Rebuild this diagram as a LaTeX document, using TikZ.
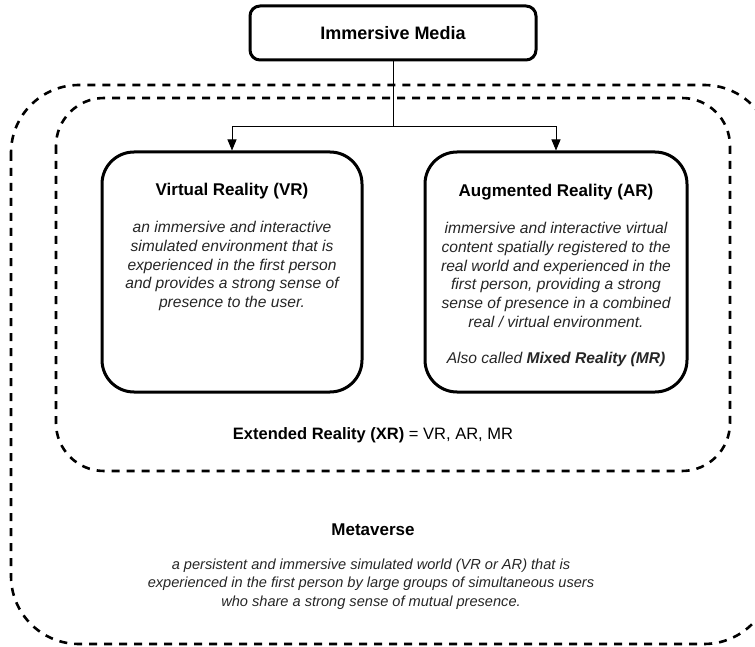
\documentclass[tikz,border=0pt]{standalone}
\usepackage{fontspec}
\setmainfont{Liberation Sans}
\usetikzlibrary{arrows.meta}
\definecolor{bodygray}{HTML}{262626}
\tikzset{
  region/.style={draw=black, line width=2.6pt, dash pattern=on 8pt off 7pt},
  conceptbox/.style={draw=black, line width=3pt, rounded corners=32pt, fill=white},
  topbox/.style={draw=black, line width=3pt, rounded corners=10pt, fill=white},
  titletext/.style={font=\fontsize{17}{20}\selectfont\bfseries, text=black, inner sep=0pt},
  bodytext/.style={font=\fontsize{15.6}{18.7}\selectfont\itshape, text=bodygray, align=center, inner sep=0pt},
  smallbody/.style={bodytext, font=\fontsize{14.6}{18.5}\selectfont\itshape},
  link/.style={draw=black, line width=0.9pt},
  arrowlink/.style={link, -{Triangle[length=11pt,width=9pt]}}
}
\begin{document}
\begin{tikzpicture}[x=1pt,y=-1pt]
\useasboundingbox (0,0) rectangle (755,647);
% dashed regions
\draw[region, rounded corners=68pt] (11,85) rectangle (772,644);
\draw[region, rounded corners=48pt] (56,98) rectangle (730,471);
% boxes
\node[topbox, minimum width=286pt, minimum height=54pt] (im) at (393,33) {};
\node[titletext, font=\fontsize{18}{21}\selectfont\bfseries] (imt) at (393,33) {Immersive Media};
\node[conceptbox, minimum width=260pt, minimum height=240pt] (vr) at (232,272) {};
\node[conceptbox, minimum width=262pt, minimum height=240pt] (ar) at (556,272) {};
% connectors
\coordinate (j) at (393,126);
\draw[link] (im.south) -- (j);
\draw[arrowlink] (j) -| (vr.north);
\draw[arrowlink] (j) -| (ar.north);
% VR text
\node[titletext] (vrt) at (232,191) {Virtual Reality (VR)};
\node[bodytext] (vrb) at (232,266) {an immersive and interactive\\simulated environment that is\\experienced in the first person\\and provides a strong sense of\\presence to the user.};
% AR text
\node[titletext] (art) at (556,192) {Augmented Reality (AR)};
\node[bodytext] (arb) at (556,275) {immersive and interactive virtual\\content spatially registered to the\\real world and experienced in the\\first person, providing a strong\\sense of presence in a combined\\real / virtual environment.};
\node[bodytext] (arm) at (556,359) {Also called \textbf{Mixed Reality (MR)}};
% XR label
\node[font=\fontsize{16.5}{20}\selectfont, inner sep=0pt] (xr) at (373,435) {\textbf{Extended Reality (XR)} = VR, AR, MR};
% Metaverse
\node[titletext] (mvt) at (373,530) {Metaverse};
\node[smallbody] (mvb) at (371,584) {a persistent and immersive simulated world (VR or AR) that is\\experienced in the first person by large groups of simultaneous users\\who share a strong sense of mutual presence.};
\end{tikzpicture}
\end{document}
